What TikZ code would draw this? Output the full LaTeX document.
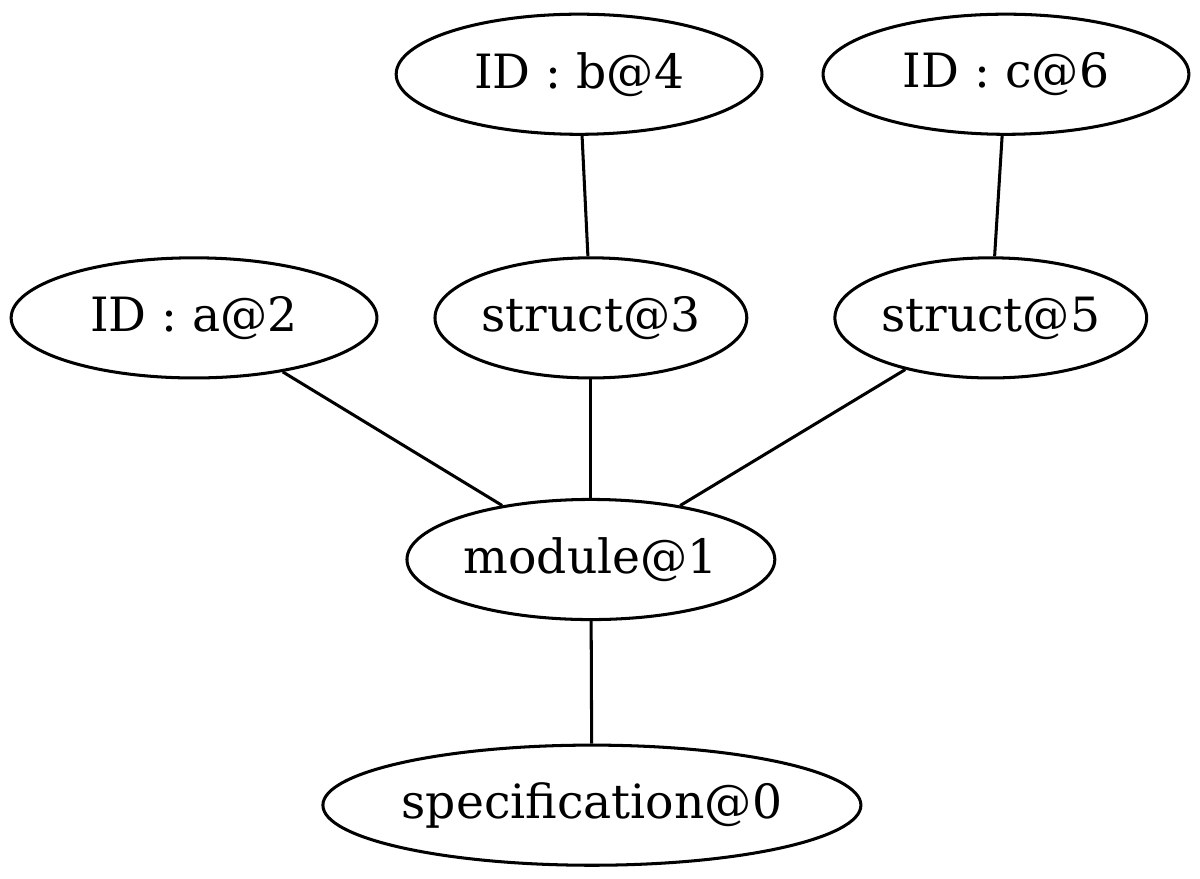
\documentclass[tikz,border=0pt]{standalone}
\usepackage{fontspec}
\setmainfont{DejaVu Serif}
\usetikzlibrary{shapes.geometric}

\begin{document}
\begin{tikzpicture}[x=1pt,y=1pt,
    vertex/.style={draw, ellipse, line width=0.9pt, inner sep=0pt,
        minimum height=35.6pt, font=\fontsize{14}{16}\selectfont},
    link/.style={line width=0.9pt}]
    \useasboundingbox (0,0) rectangle (355.6,260.4);

    \node[vertex, minimum width=108.4pt] (v_4) at (171.6,238.4) {ID : b@4};
    \node[vertex, minimum width=108.4pt] (v_6) at (298.1,238.4) {ID : c@6};

    \node[vertex, minimum width=108.4pt] (v_2) at (57.5,166.2) {ID : a@2};
    \node[vertex, minimum width=92.4pt] (v_3) at (175.1,166.2) {struct@3};
    \node[vertex, minimum width=92.4pt] (v_5) at (293.6,166.2) {struct@5};

    \node[vertex, minimum width=109pt] (v_1) at (175.1,94.6) {module@1};
    \node[vertex, minimum width=150pt] (v_0) at (175.4,21.8) {specification@0};

    \draw[link] (v_4) -- (v_3);
    \draw[link] (v_6) -- (v_5);
    \draw[link] (v_2) -- (v_1);
    \draw[link] (v_3) -- (v_1);
    \draw[link] (v_5) -- (v_1);
    \draw[link] (v_1) -- (v_0);
\end{tikzpicture}
\end{document}
